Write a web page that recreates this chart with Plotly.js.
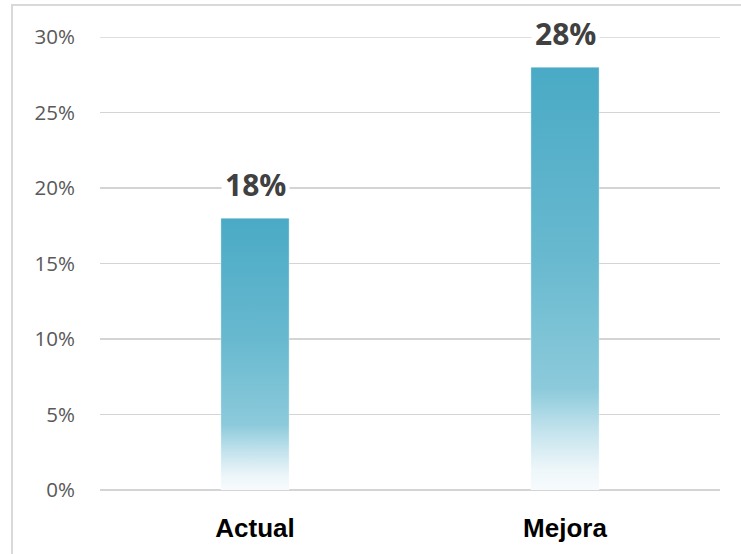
<!DOCTYPE html>
<html>
<head>
<meta charset="utf-8">
<script src="https://cdn.plot.ly/plotly-3.0.1.min.js"></script>
<style>
  html, body { margin: 0; padding: 0; background: #ffffff; }
  #frame {
    position: absolute; left: 11px; top: 4px; width: 760px; height: 600px;
    border-top: 2px solid #d9d9d9; border-left: 2px solid #d9d9d9;
  }
  #chart { position: absolute; left: 0; top: 0; width: 741px; height: 554px; }
</style>
</head>
<body>
<div id="frame"></div>
<div id="chart"></div>
<script>
// Scenario names and their rates
const categories = ['Actual', 'Mejora'];
const rates = [0.18, 0.28];
const rateLabels = ['18%', '28%'];
const tickValues = [0, 0.05, 0.10, 0.15, 0.20, 0.25, 0.30];
const tickLabels = ['0%', '5%', '10%', '15%', '20%', '25%', '30%'];
const axisMax = 0.30;

const trace = {
  type: 'bar',
  x: categories,
  y: rates,
  width: 0.22,
  marker: { color: '#4aaac5', line: { color: 'rgba(255,255,255,0.35)', width: 1 } },
  hoverinfo: 'skip'
};

// Value labels sit above each bar on a white box that breaks the gridline
const annotations = categories.map((c, i) => ({
  x: c, y: rates[i], xref: 'x', yref: 'y',
  text: rateLabels[i], showarrow: false,
  yanchor: 'bottom', yshift: 9,
  bgcolor: '#ffffff', borderpad: 3,
  font: { family: 'Open Sans, sans-serif', size: 30, color: '#404040', weight: 'bold' }
}));

const layout = {
  width: 741, height: 554,
  margin: { l: 100, r: 21, t: 37, b: 64 },
  paper_bgcolor: 'rgba(0,0,0,0)',
  plot_bgcolor: 'rgba(0,0,0,0)',
  showlegend: false,
  bargap: 0.78,
  xaxis: {
    type: 'category',
    showgrid: false, zeroline: false, showline: false, ticks: '',
    ticklabelstandoff: 20,
    tickfont: { family: 'Liberation Sans, Arial, sans-serif', size: 26, color: '#000000', weight: 'bold' }
  },
  yaxis: {
    range: [0, axisMax],
    tickvals: tickValues, ticktext: tickLabels,
    showgrid: true, gridcolor: '#d4d4d4', gridwidth: 1.5,
    zeroline: true, zerolinecolor: '#d4d4d4', zerolinewidth: 1.5,
    showline: false, ticks: '',
    ticklabelstandoff: 24,
    tickfont: { family: 'Open Sans, sans-serif', size: 20.5, color: '#595959' }
  },
  // top gridline sits on the range edge, so draw it explicitly
  shapes: [{
    type: 'line', layer: 'below', xref: 'paper', yref: 'y',
    x0: 0, x1: 1, y0: axisMax, y1: axisMax,
    line: { color: '#d4d4d4', width: 1.5 }
  }],
  annotations: annotations
};

Plotly.newPlot('chart', [trace], layout, { displayModeBar: false, staticPlot: true }).then(gd => {
  // Vertical fade: teal at the top of each bar, melting into white at the base
  const svgNS = 'http://www.w3.org/2000/svg';
  const defs = gd.querySelector('.main-svg defs');
  const grad = document.createElementNS(svgNS, 'linearGradient');
  grad.setAttribute('id', 'barFade');
  grad.setAttribute('x1', '0'); grad.setAttribute('y1', '0');
  grad.setAttribute('x2', '0'); grad.setAttribute('y2', '1');
  const stops = [
    [0, '#4aaac5'], [0.45, '#68b9cf'], [0.76, '#8ccadb'],
    [0.86, '#c3e3ed'], [0.95, '#edf6f9'], [1, '#f7fbfd']
  ];
  stops.forEach(([o, c]) => {
    const s = document.createElementNS(svgNS, 'stop');
    s.setAttribute('offset', o);
    s.setAttribute('stop-color', c);
    grad.appendChild(s);
  });
  defs.appendChild(grad);
  gd.querySelectorAll('.barlayer .point path').forEach(p => {
    p.style.fill = 'url(#barFade)';
    p.style.fillOpacity = 1;
  });
});
</script>
</body>
</html>
